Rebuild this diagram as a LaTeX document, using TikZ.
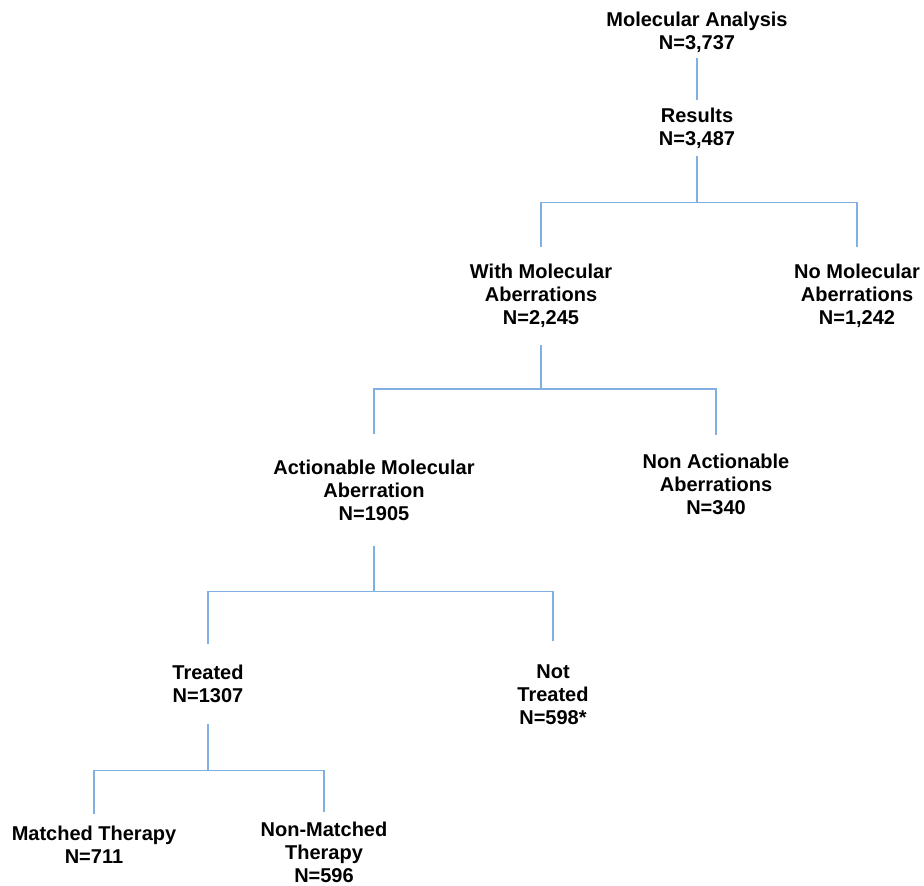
\documentclass[tikz,border=0pt]{standalone}
\usepackage{fontspec}
\setmainfont{Liberation Sans}
\definecolor{linkblue}{RGB}{128,176,226}
\tikzset{
  stage/.style={align=center,inner xsep=0pt},
  link/.style={draw=linkblue,line width=1.1bp},
  fork/.style={to path={(\tikztostart) -- ++(0,#1) -| (\tikztotarget)}},
  fork/.default=46,
}
\begin{document}
\begin{tikzpicture}[x=1bp,y=-1bp,font=\fontsize{20bp}{23bp}\selectfont\bfseries]
  \useasboundingbox (0,0) rectangle (924,886);
  % levels of the tree
  \node[stage,inner ysep=6bp]  (molan)    at (697,32)  {Molecular Analysis\\N=3,737};
  \node[stage,inner ysep=8bp]  (res)      at (697,128) {Results\\N=3,487};
  \node[stage,inner ysep=17bp] (withab)   at (541,296) {With Molecular\\Aberrations\\N=2,245};
  \node[stage,inner ysep=17bp] (noab)     at (857,296) {No Molecular\\Aberrations\\N=1,242};
  \node[stage,inner ysep=25bp] (act)      at (374,490) {Actionable Molecular\\Aberration\\N=1905};
  \node[stage,inner ysep=18bp] (nonact)   at (716,484) {Non Actionable\\Aberrations\\N=340};
  \node[stage,inner ysep=21bp] (treat)    at (208,684) {Treated\\N=1307};
  \node[stage,inner ysep=24bp] (nottreat) at (553,695) {Not\\Treated\\N=598*};
  \node[stage,inner ysep=12bp] (match)    at (94,845)  {Matched Therapy\\N=711};
  \node[stage,inner ysep=9bp]  (nonmatch) at (324,852) {Non-Matched\\Therapy\\N=596};
  % connectors
  \draw[link] (molan) -- (res);
  \draw[link] (res.south) to[fork] (withab.north);
  \draw[link] (res.south) to[fork] (noab.north);
  \draw[link] (withab.south) to[fork=44] (act.north);
  \draw[link] (withab.south) to[fork=44] (nonact.north);
  \draw[link] (act.south) to[fork] (treat.north);
  \draw[link] (act.south) to[fork] (nottreat.north);
  \draw[link] (treat.south) to[fork] (match.north);
  \draw[link] (treat.south) to[fork] (nonmatch.north);
\end{tikzpicture}
\end{document}
